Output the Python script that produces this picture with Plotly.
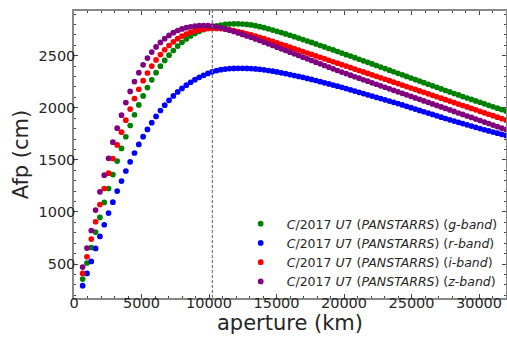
import plotly.graph_objects as go

aperture_km = [
    640, 960, 1280, 1600, 1920, 2240, 2560, 2880, 3200, 3520,
    3840, 4160, 4480, 4800, 5120, 5440, 5760, 6080, 6400, 6720,
    7040, 7360, 7680, 8000, 8320, 8640, 8960, 9280, 9600, 9920,
    10240, 10560, 10880, 11200, 11520, 11840, 12160, 12480, 12800, 13120,
    13440, 13760, 14080, 14400, 14720, 15040, 15360, 15680, 16000, 16320,
    16640, 16960, 17280, 17600, 17920, 18240, 18560, 18880, 19200, 19520,
    19840, 20160, 20480, 20800, 21120, 21440, 21760, 22080, 22400, 22720,
    23040, 23360, 23680, 24000, 24320, 24640, 24960, 25280, 25600, 25920,
    26240, 26560, 26880, 27200, 27520, 27840, 28160, 28480, 28800, 29120,
    29440, 29760, 30080, 30400, 30720, 31040, 31360, 31680, 32000,
]

afp_g = [
    356, 510, 659, 807, 947, 1091, 1225, 1359, 1488, 1610,
    1722, 1830, 1933, 2027, 2114, 2194, 2268, 2337, 2399, 2455,
    2505, 2550, 2592, 2628, 2661, 2689, 2713, 2734, 2751, 2764,
    2776, 2786, 2794, 2800, 2804, 2806, 2806, 2804, 2800, 2795,
    2788, 2779, 2769, 2758, 2746, 2734, 2722, 2709, 2696, 2683,
    2669, 2655, 2641, 2627, 2613, 2598, 2584, 2569, 2555, 2540,
    2525, 2510, 2496, 2481, 2466, 2451, 2436, 2421, 2406, 2391,
    2376, 2361, 2346, 2331, 2316, 2301, 2286, 2271, 2256, 2241,
    2226, 2211, 2196, 2181, 2166, 2152, 2137, 2123, 2108, 2094,
    2080, 2066, 2052, 2038, 2024, 2010, 1996, 1983, 1970,
]

afp_r = [
    292, 410, 525, 650, 765, 877, 989, 1094, 1200, 1296,
    1393, 1481, 1566, 1648, 1723, 1792, 1857, 1917, 1974, 2025,
    2072, 2114, 2152, 2186, 2217, 2245, 2270, 2292, 2312, 2330,
    2345, 2357, 2366, 2372, 2376, 2378, 2379, 2379, 2378, 2376,
    2373, 2369, 2364, 2358, 2351, 2344, 2336, 2328, 2319, 2310,
    2301, 2292, 2282, 2272, 2262, 2251, 2240, 2229, 2218, 2207,
    2196, 2184, 2172, 2160, 2148, 2136, 2124, 2112, 2100, 2088,
    2076, 2064, 2052, 2040, 2027, 2014, 2001, 1988, 1975, 1962,
    1949, 1936, 1923, 1910, 1897, 1884, 1872, 1860, 1848, 1836,
    1824, 1812, 1800, 1789, 1778, 1767, 1756, 1745, 1734,
]

afp_i = [
    410, 570, 740, 906, 1071, 1225, 1372, 1512, 1643, 1766,
    1881, 1988, 2088, 2178, 2260, 2334, 2400, 2459, 2511, 2557,
    2598, 2633, 2663, 2688, 2708, 2725, 2738, 2748, 2755, 2760,
    2762, 2762, 2760, 2755, 2748, 2740, 2731, 2721, 2710, 2699,
    2687, 2675, 2663, 2650, 2637, 2624, 2610, 2596, 2582, 2568,
    2554, 2540, 2526, 2512, 2498, 2484, 2470, 2456, 2442, 2428,
    2414, 2400, 2386, 2372, 2358, 2344, 2330, 2316, 2302, 2288,
    2274, 2260, 2246, 2232, 2218, 2204, 2190, 2176, 2162, 2148,
    2134, 2120, 2106, 2092, 2078, 2064, 2050, 2036, 2022, 2008,
    1994, 1980, 1966, 1952, 1938, 1924, 1910, 1896, 1882,
]

afp_z = [
    471, 653, 822, 1018, 1193, 1353, 1515, 1670, 1804, 1929,
    2050, 2157, 2252, 2337, 2412, 2477, 2535, 2584, 2627, 2663,
    2695, 2721, 2742, 2757, 2769, 2778, 2785, 2788, 2789, 2788,
    2784, 2777, 2768, 2757, 2745, 2732, 2718, 2704, 2690, 2676,
    2661, 2646, 2630, 2614, 2598, 2582, 2566, 2550, 2534, 2518,
    2502, 2486, 2470, 2454, 2438, 2422, 2406, 2390, 2374, 2358,
    2343, 2328, 2313, 2298, 2284, 2269, 2255, 2240, 2226, 2211,
    2197, 2182, 2168, 2153, 2139, 2124, 2110, 2095, 2081, 2066,
    2052, 2037, 2023, 2008, 1994, 1979, 1965, 1950, 1936, 1921,
    1907, 1892, 1878, 1863, 1849, 1834, 1820, 1805, 1791,
]

series_names = [
    "<i>C</i>/2017 <i>U</i>7 (<i>PANSTARRS</i>) (<i>g</i>-<i>band</i>)",
    "<i>C</i>/2017 <i>U</i>7 (<i>PANSTARRS</i>) (<i>r</i>-<i>band</i>)",
    "<i>C</i>/2017 <i>U</i>7 (<i>PANSTARRS</i>) (<i>i</i>-<i>band</i>)",
    "<i>C</i>/2017 <i>U</i>7 (<i>PANSTARRS</i>) (<i>z</i>-<i>band</i>)",
]
series_values = [afp_g, afp_r, afp_i, afp_z]
series_colors = ["#008000", "#0000ff", "#ff0000", "#800080"]

x_ticks = [0, 5000, 10000, 15000, 20000, 25000, 30000]
y_ticks = [500, 1000, 1500, 2000, 2500]
reference_aperture = 10250
x_range = [0, 32000]
y_range = [174, 2929]

fig = go.Figure()
for k, (name, vals, col) in enumerate(zip(series_names, series_values, series_colors)):
    fig.add_trace(go.Scatter(
        x=aperture_km, y=vals, mode="markers", name=name,
        legendgroup=f"g{k}",
        marker=dict(color=col, size=5.7, line=dict(width=0)),
        cliponaxis=True,
    ))

fig.add_vline(x=reference_aperture, line=dict(color="#777777", width=1.2, dash="3px,2px"))

axis_common = dict(
    showgrid=False, zeroline=False,
    showline=True, linecolor="#888888", linewidth=1.5, mirror="allticks",
    ticks="inside", ticklen=4, tickwidth=1, tickcolor="#444444",
    tickfont=dict(family="DejaVu Sans", size=14.5, color="#262626"),
)

fig.update_xaxes(
    range=x_range, tickvals=x_ticks, ticktext=[str(v) for v in x_ticks],
    minor=dict(dtick=1000, ticks="inside", ticklen=2, tickcolor="#444444"),
    ticklabelstandoff=-9,
    title=dict(text="aperture (km)", font=dict(family="DejaVu Sans", size=21, color="#262626"), standoff=5),
    **axis_common,
)
fig.update_yaxes(
    range=y_range, tickvals=y_ticks, ticktext=[str(v) for v in y_ticks],
    minor=dict(dtick=100, ticks="inside", ticklen=2, tickcolor="#444444"),
    ticklabelstandoff=-6,
    title=dict(text="Afp (cm)", font=dict(family="DejaVu Sans", size=21, color="#262626"), standoff=4),
    **axis_common,
)

fig.update_layout(
    width=507, height=340,
    margin=dict(l=74, r=1, t=11, b=42, autoexpand=False),
    plot_bgcolor="white", paper_bgcolor="white",
    legend=dict(
        x=0.372, y=0.31, xanchor="left", yanchor="top",
        bgcolor="rgba(0,0,0,0)", borderwidth=0,
        font=dict(family="DejaVu Sans", size=12.5, color="#262626"),
        tracegroupgap=0, traceorder="grouped", itemwidth=42,
    ),
)

fig.write_html(
    "out.html",
    config={"displayModeBar": False},
    post_script="document.body.style.margin='0';document.body.style.overflow='hidden';",
)
